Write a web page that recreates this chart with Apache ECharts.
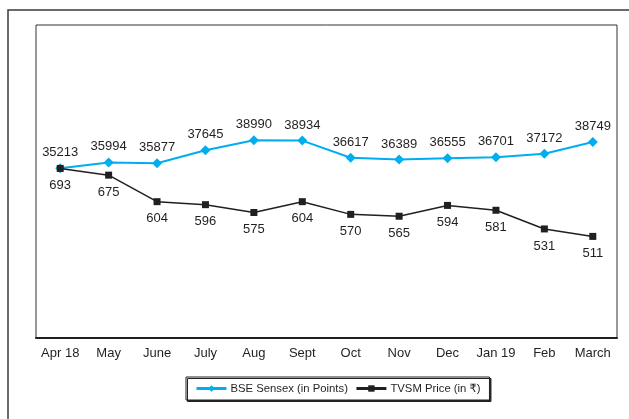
<!DOCTYPE html>
<html>
<head>
<meta charset="utf-8">
<script src="https://cdn.jsdelivr.net/npm/echarts@6/dist/echarts.min.js"></script>
<style>
html,body{margin:0;padding:0;background:#fff;}
#c{width:629px;height:419px;}
</style>
</head>
<body>
<div id="c"></div>
<script>
const categories = ['Apr 18','May','June','July','Aug','Sept','Oct','Nov','Dec','Jan 19','Feb','March'];
const sensex = [35213,35994,35877,37645,38990,38934,36617,36389,36555,36701,37172,38749];
const tvsm = [693,675,604,596,575,604,570,565,594,581,531,511];
const seriesNames = ['BSE Sensex (in Points)','TVSM Price (in ₹)'];

const FONT = '"Liberation Sans",Arial,"DejaVu Sans",sans-serif';
const chart = echarts.init(document.getElementById('c'), null, {renderer:'canvas'});
chart.setOption({
  animation:false,
  backgroundColor:'#fff',
  graphic:[{type:'rect',shape:{x:8,y:10,width:700,height:500},style:{fill:'none',stroke:'#3a3a3a',lineWidth:1.5},silent:true}],
  grid:{left:36,top:25,right:12,bottom:81,show:true,borderColor:'#333',borderWidth:1,backgroundColor:'transparent'},
  legend:{
    left:186, top:377,
    padding:[6,9,6,9],
    itemGap:7, itemWidth:30, itemHeight:8,
    borderColor:'#222', borderWidth:1,
    backgroundColor:'#fff',
    shadowColor:'#222', shadowOffsetX:1.5, shadowOffsetY:1.5, shadowBlur:0,
    lineStyle:{width:3},
    textStyle:{fontFamily:FONT,fontSize:11.3,color:'#231f20',padding:[0,0,0,-1]},
    data:seriesNames
  },
  xAxis:{
    type:'category', data:categories, boundaryGap:true,
    axisLine:{lineStyle:{color:'#231f20',width:2}},
    axisTick:{length:4,interval:0,lineStyle:{color:'#555',width:1}},
    axisLabel:{interval:0,fontFamily:FONT,fontSize:13,color:'#231f20',margin:9}
  },
  yAxis:[
    {type:'value',min:12308,max:54530,show:false,splitLine:{show:false}},
    {type:'value',min:239,max:1077,show:false,splitLine:{show:false}}
  ],
  series:[
    {name:seriesNames[0],type:'line',yAxisIndex:0,data:sensex,
     symbol:'diamond',symbolSize:10,
     lineStyle:{color:'#00aeef',width:2},itemStyle:{color:'#00aeef'},
     label:{show:true,position:'top',distance:4,fontFamily:FONT,fontSize:13,color:'#231f20'},z:2},
    {name:seriesNames[1],type:'line',yAxisIndex:1,data:tvsm,
     symbol:'rect',symbolSize:7,
     lineStyle:{color:'#231f20',width:1.5},itemStyle:{color:'#231f20'},
     label:{show:true,position:'bottom',distance:7,fontFamily:FONT,fontSize:13,color:'#231f20'},z:3}
  ]
});
</script>
</body>
</html>
